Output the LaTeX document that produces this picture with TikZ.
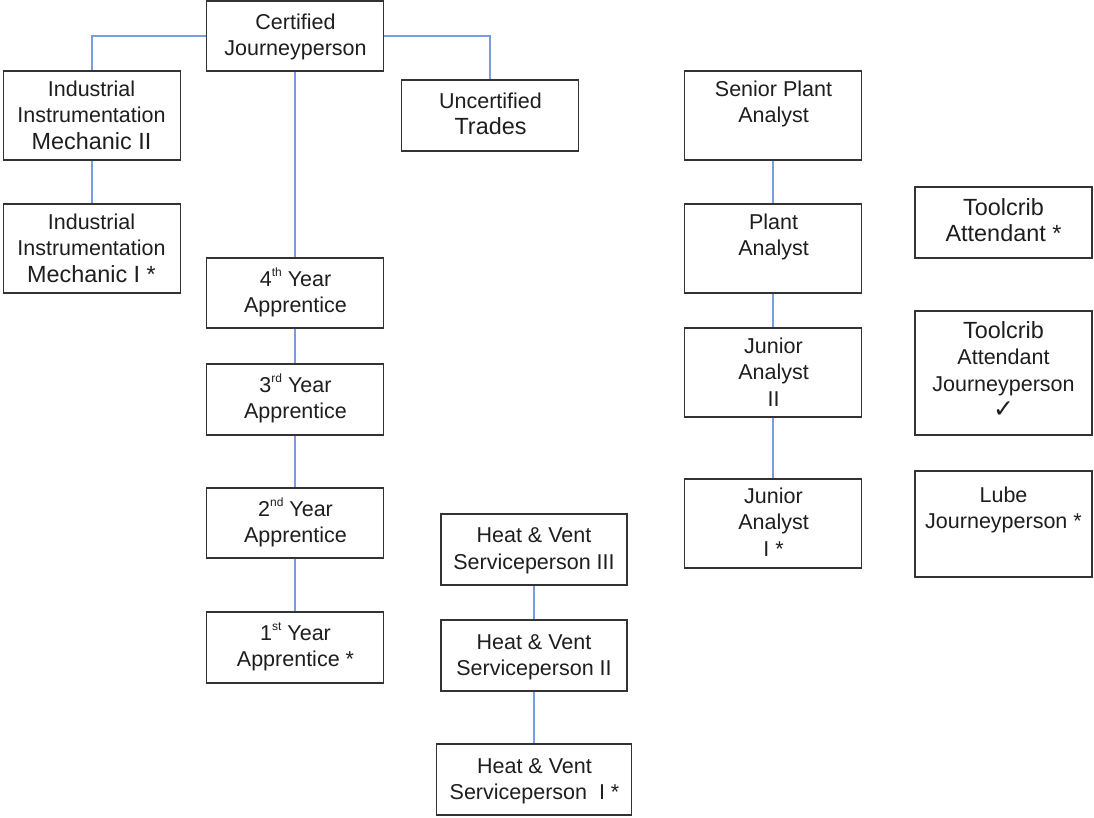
\documentclass[tikz,border=0pt]{standalone}
\usepackage{fontspec}
\setmainfont{Liberation Sans}
\newfontfamily\symfont{DejaVu Sans}
% slightly larger type used on some lines
\newcommand\bigline{\fontsize{23.4}{26.6}\selectfont}
% small raised ordinal suffix
\newcommand\ordsup[1]{\raisebox{0.42em}{\fontsize{12}{12}\selectfont #1}}
% centred stack of lines, baseline on the first line
\newcommand\stack[1]{\fontsize{21.5}{26.6}\selectfont\begin{tabular}[t]{@{}c@{}}#1\end{tabular}}
\definecolor{boxline}{HTML}{333333}
\definecolor{linkblue}{HTML}{789EE0}
\definecolor{ink}{HTML}{1E1E1E}
\begin{document}
\begin{tikzpicture}[x=1pt,y=-1pt,
  box/.style={draw=boxline, line width=1.4pt, fill=white, inner sep=0pt},
  txt/.style={anchor=base, inner sep=0pt, text=ink},
  link/.style={draw=linkblue, line width=1.7pt}]
\useasboundingbox (0,0) rectangle (1094,817);

% boxes
\node[box, minimum width=177pt, minimum height=70pt] (cj)   at (295,36)   {};
\node[box, minimum width=177pt, minimum height=89pt] (iim2) at (92,115.5)  {};
\node[box, minimum width=177pt, minimum height=89pt] (iim1) at (92,248.5)  {};
\node[box, minimum width=177pt, minimum height=71pt] (unc)  at (490,115.5) {};
\node[box, minimum width=177pt, minimum height=70pt] (a4)   at (295,293)   {};
\node[box, minimum width=177pt, minimum height=71pt] (a3)   at (295,399.5) {};
\node[box, minimum width=177pt, minimum height=70pt] (a2)   at (295,523)   {};
\node[box, minimum width=177pt, minimum height=71pt] (a1)   at (295,647.5) {};
\node[box, minimum width=186pt, minimum height=71pt] (hv3)  at (534,549.5)   {};
\node[box, minimum width=186pt, minimum height=71pt] (hv2)  at (534,655.5)   {};
\node[box, minimum width=195pt, minimum height=71pt] (hv1)  at (534,779.5) {};
\node[box, minimum width=177pt, minimum height=89pt] (spa)  at (773,115.5) {};
\node[box, minimum width=177pt, minimum height=89pt] (pa)   at (773,248.5) {};
\node[box, minimum width=177pt, minimum height=89pt] (ja2)  at (773,372.5) {};
\node[box, minimum width=177pt, minimum height=89pt] (ja1)  at (773,523.5) {};
\node[box, minimum width=177pt, minimum height=71pt] (tca)  at (1003.5,222.5) {};
\node[box, minimum width=177pt, minimum height=124pt] (tcaj) at (1003.5,373) {};
\node[box, minimum width=177pt, minimum height=106pt] (lube) at (1003.5,524) {};

% labels
\node[txt] (cj-t)   at (295.5,29)  {\stack{Certified\\Journeyperson}};
\node[txt] (iim2-t) at (91.5,96)   {\stack{Industrial\\Instrumentation\\\bigline Mechanic II}};
\node[txt] (iim1-t) at (91.5,229)  {\stack{Industrial\\Instrumentation\\\bigline Mechanic I *}};
\node[txt] (unc-t)  at (490.5,108) {\stack{Uncertified\\\bigline Trades}};
\node[txt] (a4-t)   at (295.5,286) {\stack{4\ordsup{th} Year\\Apprentice}};
\node[txt] (a3-t)   at (295.5,392) {\stack{3\ordsup{rd} Year\\Apprentice}};
\node[txt] (a2-t)   at (295.5,516) {\stack{2\ordsup{nd} Year\\Apprentice}};
\node[txt] (a1-t)   at (295.5,640) {\stack{1\ordsup{st} Year\\Apprentice *}};
\node[txt] (hv3-t)  at (534,542.5)   {\stack{Heat \& Vent\\Serviceperson III}};
\node[txt] (hv2-t)  at (534,649)     {\stack{Heat \& Vent\\Serviceperson II}};
\node[txt] (hv1-t)  at (534.5,773)   {\stack{Heat \& Vent\\Serviceperson~ I *}};
\node[txt] (spa-t)  at (773.5,96)  {\stack{Senior Plant\\Analyst}};
\node[txt] (pa-t)   at (773.5,229) {\stack{Plant\\Analyst}};
\node[txt] (ja2-t)  at (773.5,353) {\stack{Junior\\Analyst\\II}};
\node[txt] (ja1-t)  at (773.5,503) {\stack{Junior\\Analyst\\I *}};
\node[txt] (tca-t)  at (1003.5,215)  {\stack{\bigline Toolcrib\\\bigline Attendant *}};
\node[txt] (tcaj-t) at (1003.5,338)  {\stack{\bigline Toolcrib\\Attendant\\Journeyperson\\{\symfont\fontsize{25}{26.6}\selectfont ✓}}};
\node[txt] (lube-t) at (1003.5,502)  {\stack{Lube\\Journeyperson *}};

% connectors
\draw[link] (cj.west) -| (iim2.north);
\draw[link] (cj.east) -| (unc.north);
\draw[link] (cj.south) -- (a4.north);
\draw[link] (iim2.south) -- (iim1.north);
\draw[link] (a4.south) -- (a3.north);
\draw[link] (a3.south) -- (a2.north);
\draw[link] (a2.south) -- (a1.north);
\draw[link] (hv3.south) -- (hv2.north);
\draw[link] (hv2.south) -- (hv1.north);
\draw[link] (spa.south) -- (pa.north);
\draw[link] (pa.south) -- (ja2.north);
\draw[link] (ja2.south) -- (ja1.north);
\end{tikzpicture}
\end{document}
